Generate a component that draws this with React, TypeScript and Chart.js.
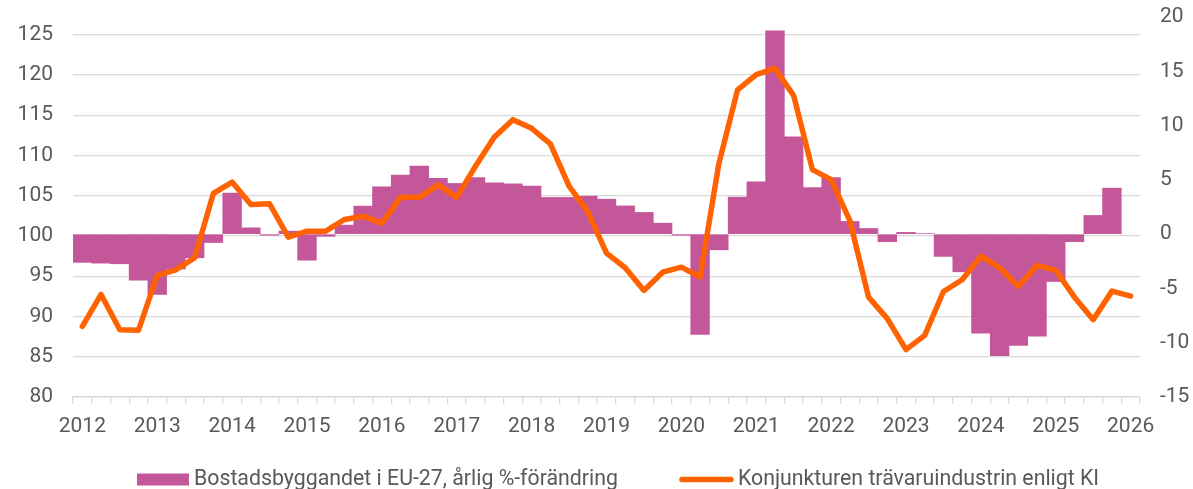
import React, { useEffect, useRef } from 'react';
import { Chart, registerables } from 'chart.js';

Chart.register(...registerables);

// Years shown on the x axis (one category per quarter, 2012 Q1 .. 2026 Q1)
const years = [2012, 2013, 2014, 2015, 2016, 2017, 2018, 2019, 2020, 2021, 2022, 2023, 2024, 2025, 2026];
const quarterNames = ['K1', 'K2', 'K3', 'K4'];

const categories: string[] = [];
years.forEach((y) => {
  quarterNames.forEach((q) => {
    if (y < 2026 || q === 'K1') categories.push(`${y} ${q}`);
  });
});

// Bostadsbyggandet i EU-27, årlig %-förändring (right axis)
const housingChange: (number | null)[] = [
  -2.6, -2.67, -2.73, -4.24, -5.56, -3.22, -2.18, -0.77,
  3.78, 0.58, -0.1, 0.28, -2.4, -0.2, 0.83, 2.58,
  4.36, 5.43, 6.26, 5.13, 4.67, 5.22, 4.72, 4.63,
  4.42, 3.38, 3.38, 3.5, 3.22, 2.6, 2.0, 1.01,
  -0.1, -9.24, -1.44, 3.41, 4.82, 18.72, 8.96, 4.3,
  5.22, 1.17, 0.52, -0.7, 0.16, 0.05, -2.05, -3.47,
  -9.12, -11.2, -10.25, -9.39, -4.36, -0.7, 1.72, 4.24,
  null,
];

// Konjunkturen trävaruindustrin enligt KI (left axis)
const kiIndicator: number[] = [
  88.77, 92.74, 88.36, 88.3, 95.1, 95.8, 97.3, 105.3,
  106.7, 103.9, 104.0, 99.85, 100.6, 100.6, 102.05, 102.46,
  101.6, 104.8, 104.8, 106.35, 104.8, 108.66, 112.26, 114.45,
  113.37, 111.44, 106.2, 103.04, 97.87, 96.05, 93.24, 95.5,
  96.13, 94.9, 108.96, 118.14, 120.04, 120.82, 117.43, 108.25,
  107.0, 101.92, 92.4, 89.73, 85.88, 87.65, 93.1, 94.56,
  97.5, 96.05, 93.73, 96.34, 95.72, 92.4, 89.6, 93.15, 92.53,
];

const leftTicks = { min: 80, max: 127.2, step: 5 };
const rightTicks = { min: -15, max: 20, step: 5 };

const seriesLabels = [
  'Bostadsbyggandet i EU-27, årlig %-förändring',
  'Konjunkturen trävaruindustrin enligt KI',
];

const BAR_COLOR = '#C4579A';
const LINE_COLOR = '#FF6200';
const TEXT_COLOR = '#595959';
const GRID_COLOR = '#D9D9D9';
const FONT = 'Roboto';

const customLegend = {
  id: 'customLegend',
  afterDraw(chart: any) {
    const ctx = chart.ctx as CanvasRenderingContext2D;
    ctx.save();
    ctx.font = `21.3px ${FONT}`;
    ctx.textBaseline = 'alphabetic';
    let x = 137;
    const baseline = 485;
    const mid = 479.5;
    chart.data.datasets.forEach((ds: any) => {
      if (ds.type === 'line') {
        ctx.strokeStyle = ds.borderColor;
        ctx.lineWidth = 5.5;
        ctx.lineCap = 'round';
        ctx.beginPath();
        ctx.moveTo(x + 3, mid);
        ctx.lineTo(x + 52, mid);
        ctx.stroke();
        x += 59;
      } else {
        ctx.fillStyle = ds.backgroundColor;
        ctx.fillRect(x, mid - 6, 52, 12);
        x += 57;
      }
      ctx.fillStyle = TEXT_COLOR;
      ctx.fillText(ds.label, x, baseline);
      x += ctx.measureText(ds.label).width + 61;
    });
    ctx.restore();
  },
};

export default function App() {
  const canvasRef = useRef<HTMLCanvasElement>(null);

  useEffect(() => {
    if (!canvasRef.current) return;
    Chart.defaults.font.family = FONT;
    const chart = new Chart(canvasRef.current, {
      data: {
        labels: categories,
        datasets: [
          {
            type: 'bar',
            label: seriesLabels[0],
            data: housingChange,
            backgroundColor: BAR_COLOR,
            borderWidth: 0,
            barPercentage: 1,
            categoryPercentage: 1,
            yAxisID: 'y1',
            order: 2,
          } as any,
          {
            type: 'line',
            label: seriesLabels[1],
            data: kiIndicator,
            borderColor: LINE_COLOR,
            backgroundColor: LINE_COLOR,
            borderWidth: 5.5,
            borderJoinStyle: 'round',
            borderCapStyle: 'round',
            pointRadius: 0,
            tension: 0,
            yAxisID: 'y',
            order: 1,
          } as any,
        ],
      },
      options: {
        animation: false,
        responsive: true,
        maintainAspectRatio: false,
        layout: { padding: { top: 17, left: 0, right: 0, bottom: 0 } },
        plugins: {
          legend: { display: false },
          tooltip: { enabled: false },
        },
        scales: {
          x: {
            type: 'category',
            offset: true,
            grid: {
              drawOnChartArea: false,
              drawTicks: true,
              tickLength: 7,
              color: GRID_COLOR,
              lineWidth: 1.3,
              offset: true,
            },
            border: { display: true, color: GRID_COLOR, width: 1.3 },
            ticks: {
              autoSkip: false,
              maxRotation: 0,
              minRotation: 0,
              padding: 10,
              color: TEXT_COLOR,
              font: { size: 21 },
              callback: (_v: any, i: number) => (i % 4 === 0 ? categories[i].slice(0, 4) : ''),
            },
            afterFit: (s: any) => {
              s.height = 92;
            },
          },
          y: {
            position: 'left',
            min: leftTicks.min,
            max: leftTicks.max,
            ticks: {
              stepSize: leftTicks.step,
              includeBounds: false,
              padding: 0,
              color: TEXT_COLOR,
              font: { size: 21 },
            },
            grid: {
              color: GRID_COLOR,
              lineWidth: 1.3,
              drawTicks: true,
              tickLength: 20,
              tickColor: 'rgba(0,0,0,0)',
            },
            border: { display: false },
            afterFit: (s: any) => {
              s.width = 73;
            },
          },
          y1: {
            position: 'right',
            min: rightTicks.min,
            max: rightTicks.max,
            ticks: {
              stepSize: rightTicks.step,
              padding: 0,
              color: TEXT_COLOR,
              font: { size: 21 },
            },
            grid: {
              drawOnChartArea: false,
              drawTicks: true,
              tickLength: 20,
              color: 'rgba(0,0,0,0)',
              tickColor: 'rgba(0,0,0,0)',
            },
            border: { display: false },
            afterFit: (s: any) => {
              s.width = 53;
            },
          },
        },
      } as any,
      plugins: [customLegend],
    });
    return () => chart.destroy();
  }, []);

  return (
    <div style={{ position: 'fixed', left: 0, top: 0, width: 1193, height: 489 }}>
      <canvas ref={canvasRef} />
    </div>
  );
}
